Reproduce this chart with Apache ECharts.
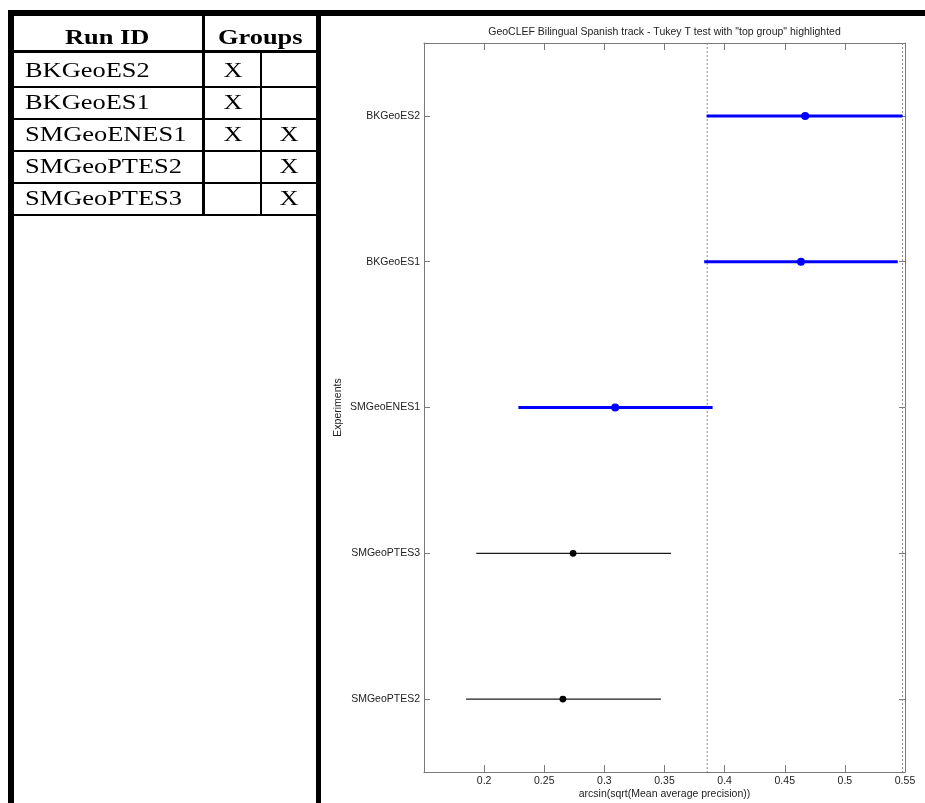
<!DOCTYPE html>
<html>
<head>
<meta charset="utf-8">
<script src="https://cdn.jsdelivr.net/npm/echarts@6/dist/echarts.min.js"></script>
<style>
html,body{margin:0;padding:0;background:#fff;}
#wrap{position:relative;width:925px;height:803px;overflow:hidden;}
#chart{position:absolute;left:0;top:0;width:925px;height:803px;}
#panel{position:absolute;left:0;top:0;width:925px;height:803px;pointer-events:none;}
.bar{position:absolute;background:#000;}
.cell{position:absolute;font-family:'Liberation Serif','Times New Roman',serif;font-size:22px;color:#000;white-space:nowrap;}
.cell span{display:inline-block;transform:scaleX(1.2);}
</style>
</head>
<body>
<div id="wrap">
  <div id="chart"></div>
  <div id="panel"></div>
</div>
<script>
// ---- Chart data ----
const experiments = ['BKGeoES2', 'BKGeoES1', 'SMGeoENES1', 'SMGeoPTES3', 'SMGeoPTES2'];
const lowerCI    = [0.385, 0.383, 0.2285, 0.1935, 0.185];
const meanValues = [0.467, 0.4635, 0.309, 0.274, 0.2655];
const upperCI    = [0.548, 0.544, 0.390, 0.3555, 0.347];
const topGroup = ['BKGeoES2', 'BKGeoES1', 'SMGeoENES1'];
const topGroupBounds = [0.3855, 0.548];
const xMin = 0.15, xMax = 0.55, xStep = 0.05;
const chartTitle = 'GeoCLEF Bilingual Spanish track - Tukey T test with "top group" highlighted';
const xAxisName = 'arcsin(sqrt(Mean average precision))';
const yAxisName = 'Experiments';

// ---- Table data ----
const tableHeader = ['Run ID', 'Groups'];
const runIds = ['BKGeoES2', 'BKGeoES1', 'SMGeoENES1', 'SMGeoPTES2', 'SMGeoPTES3'];
const groupA = ['X', 'X', 'X', '', ''];
const groupB = ['', '', 'X', 'X', 'X'];

// ---- Table (HTML) ----
const panel = document.getElementById('panel');
function bar(x, y, w, h) {
  const d = document.createElement('div');
  d.className = 'bar';
  d.style.left = x + 'px'; d.style.top = y + 'px';
  d.style.width = w + 'px'; d.style.height = h + 'px';
  panel.appendChild(d);
}
function cell(str, x, w, top, lh, align, bold) {
  const d = document.createElement('div');
  d.className = 'cell';
  d.style.left = x + 'px'; d.style.top = top + 'px';
  d.style.width = w + 'px'; d.style.height = lh + 'px';
  d.style.lineHeight = lh + 'px';
  d.style.textAlign = align;
  if (bold) d.style.fontWeight = 'bold';
  const s = document.createElement('span');
  s.style.transformOrigin = align === 'left' ? 'left center' : 'center center';
  s.textContent = str;
  d.appendChild(s);
  panel.appendChild(d);
}
// frame
bar(8, 10, 917, 6);      // top thick bar
bar(8, 10, 5.5, 793);    // left border
bar(316, 10, 5, 793);    // panel right border
bar(13, 50, 303, 3);     // header bottom
bar(202, 16, 3, 200);    // run id / groups divider
bar(260, 53, 2, 163);    // groups sub divider
// header
cell(tableHeader[0], 13, 189, 19.5, 34, 'center', true);
cell(tableHeader[1], 205, 111, 19.5, 34, 'center', true);
// rows
runIds.forEach((id, i) => {
  const top = 53.6 + i * 32.1;
  cell(id, 25, 170, top, 32, 'left', false);
  cell(groupA[i], 205, 55, top, 32, 'center', false);
  cell(groupB[i], 262, 54, top, 32, 'center', false);
  bar(13, 85.6 + i * 32.1, 303, 2);
});

// ---- Chart (ECharts) ----
const FONT = "'Liberation Sans', Arial, Helvetica, sans-serif";
const frameColor = '#7a7a7a';
const labelStyle = { fontFamily: FONT, fontSize: 10.5, color: '#222' };

const chart = echarts.init(document.getElementById('chart'), null, { renderer: 'canvas' });

const intervalData = experiments.map((e, i) => [lowerCI[i], meanValues[i], upperCI[i], i]);

const option = {
  animation: false,
  backgroundColor: '#ffffff',
  title: {
    text: chartTitle,
    left: 664.5,
    top: 27,
    padding: 0,
    textAlign: 'center',
    textStyle: { fontFamily: FONT, fontSize: 10.5, fontWeight: 'normal', color: '#222' }
  },
  grid: { left: 424, top: 43, width: 481, height: 729, containLabel: false, outerBoundsMode: 'none' },
  xAxis: [
    {
      type: 'value', position: 'bottom', min: xMin, max: xMax, interval: xStep,
      name: xAxisName, nameLocation: 'middle', nameGap: 17, nameMoveOverlap: false,
      nameTextStyle: labelStyle,
      axisLine: { show: true, lineStyle: { color: frameColor, width: 1 } },
      axisTick: { show: true, inside: true, length: 7, lineStyle: { color: frameColor } },
      axisLabel: { showMinLabel: false, margin: 4, ...labelStyle },
      splitLine: { show: false }
    },
    {
      type: 'value', position: 'top', min: xMin, max: xMax, interval: xStep,
      axisLine: { show: true, lineStyle: { color: frameColor, width: 1 } },
      axisTick: { show: true, inside: true, length: 7, lineStyle: { color: frameColor } },
      axisLabel: { show: false },
      splitLine: { show: false }
    }
  ],
  yAxis: [
    {
      type: 'category', data: experiments, inverse: true, position: 'left',
      name: yAxisName, nameLocation: 'middle', nameGap: 80, nameRotate: 90, nameMoveOverlap: false,
      nameTextStyle: labelStyle,
      axisLine: { show: true, lineStyle: { color: frameColor, width: 1 } },
      axisTick: { show: true, inside: true, alignWithLabel: true, length: 6, lineStyle: { color: frameColor } },
      axisLabel: { margin: 4, ...labelStyle },
      splitLine: { show: false }
    },
    {
      type: 'category', data: experiments, inverse: true, position: 'right',
      axisLine: { show: true, lineStyle: { color: frameColor, width: 1 } },
      axisTick: { show: true, inside: true, alignWithLabel: true, length: 6, lineStyle: { color: frameColor } },
      axisLabel: { show: false },
      splitLine: { show: false }
    }
  ],
  series: [
    {
      name: 'top group bounds',
      type: 'custom',
      silent: true,
      z: 1,
      xAxisIndex: 0, yAxisIndex: 0,
      data: topGroupBounds.map(v => [v, 0]),
      encode: { x: 0, y: 1 },
      renderItem: (params, api) => {
        const x = api.coord([api.value(0), 0])[0];
        const cs = params.coordSys;
        return {
          type: 'line',
          shape: { x1: x, y1: cs.y, x2: x, y2: cs.y + cs.height },
          style: { stroke: '#8a8a8a', lineWidth: 1, lineDash: [2, 2] }
        };
      }
    },
    {
      name: 'intervals',
      type: 'custom',
      silent: true,
      z: 3,
      xAxisIndex: 0, yAxisIndex: 0,
      data: intervalData,
      encode: { x: [0, 1, 2], y: 3 },
      renderItem: (params, api) => {
        const cat = api.value(3);
        const a = api.coord([api.value(0), cat]);
        const m = api.coord([api.value(1), cat]);
        const b = api.coord([api.value(2), cat]);
        const hl = topGroup.indexOf(experiments[params.dataIndex]) >= 0;
        return {
          type: 'group',
          children: [
            { type: 'line', shape: { x1: a[0], y1: a[1], x2: b[0], y2: b[1] },
              style: { stroke: hl ? '#0000ff' : '#1a1a1a', lineWidth: hl ? 3 : 1.2 } },
            { type: 'circle', shape: { cx: m[0], cy: m[1], r: hl ? 4 : 3.4 },
              style: { fill: hl ? '#0000ff' : '#000000' } }
          ]
        };
      }
    }
  ]
};
chart.setOption(option);
</script>
</body>
</html>
